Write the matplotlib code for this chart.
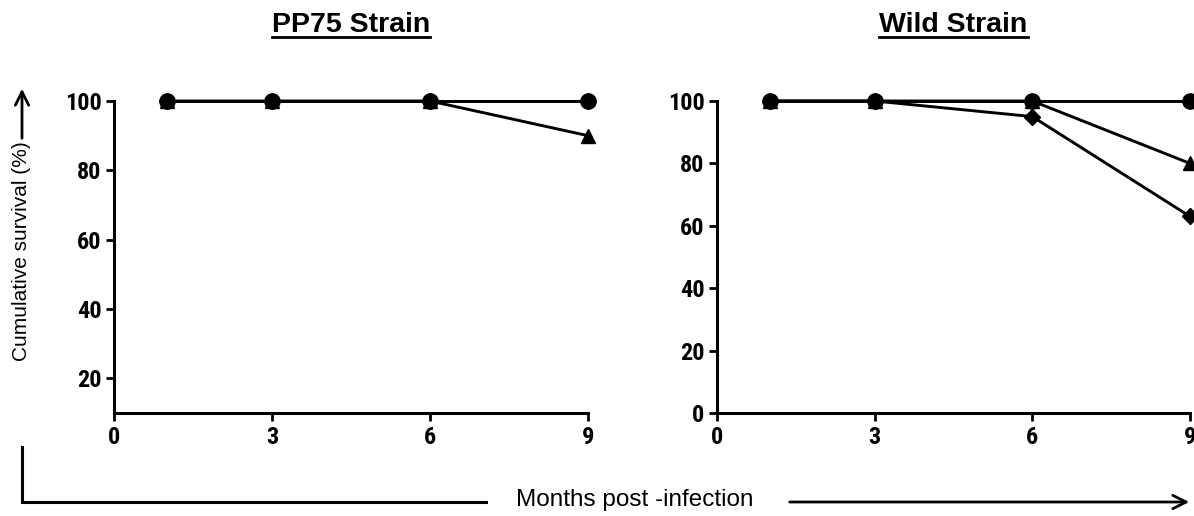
import numpy as np
import matplotlib
matplotlib.use("Agg")
import matplotlib.pyplot as plt
from matplotlib.lines import Line2D
from matplotlib import font_manager

# data
months = [1, 3, 6, 9]
xticks = [0, 3, 6, 9]

pp75_circle = [100, 100, 100, 100]
pp75_triangle = [100, 100, 100, 90]
pp75_diamond = [100, 100, 100, 100]

wild_circle = [100, 100, 100, 100]
wild_triangle = [100, 100, 100, 80]
wild_diamond = [100, 100, 95, 63]

titles = ["PP75 Strain", "Wild Strain"]
ylabel = "Cumulative survival (%)"
xlabel = "Months post -infection"

W, H = 1194, 516
fig = plt.figure(figsize=(W/100, H/100), dpi=100)

# the tick labels look like a condensed bold face; pick a bold narrow file if there is one
def wnum(w):
    if isinstance(w, int):
        return w
    return font_manager.weight_dict.get(w, 400)

cands = [f for f in font_manager.fontManager.ttflist
         if ("Narrow" in f.name or "Condensed" in f.name)
         and wnum(f.weight) >= 700 and f.style == "normal"]
def rank(f):
    for i, key in enumerate(["Liberation Sans Narrow", "Arial Narrow", "Roboto Condensed",
                             "Open Sans Condensed", "DejaVu Sans Condensed"]):
        if f.name.startswith(key):
            return (i, abs(wnum(f.weight) - 700))
    return (9, abs(wnum(f.weight) - 700))
cands.sort(key=rank)
if cands:
    tickfont = font_manager.FontProperties(fname=cands[0].fname, size=17.5)
else:
    tickfont = font_manager.FontProperties(family=["Liberation Sans", "DejaVu Sans"], weight="bold", size=16)

top, bottom = 101, 413

def make_axes(rect, series, ylim, yticks, title):
    ax = fig.add_axes(rect)
    for ys, m, ms in series:
        ax.plot(months, ys, color="black", lw=2.1, marker=m, ms=ms, clip_on=False, zorder=3)
    ax.set_xlim(0, 9)
    ax.set_ylim(*ylim)
    ax.set_xticks(xticks)
    ax.set_yticks(yticks)
    for s in ["top", "right"]:
        ax.spines[s].set_visible(False)
    for s in ["left", "bottom"]:
        ax.spines[s].set_linewidth(2.2)
    ax.tick_params(width=2, length=6, direction="out", pad=3)
    for lab in ax.get_xticklabels() + ax.get_yticklabels():
        lab.set_fontproperties(tickfont)
    t = ax.set_title(title, fontsize=20.5, fontweight="bold",
                     family=["Liberation Sans", "DejaVu Sans"], pad=50)
    return ax, t

ax1, t1 = make_axes([114/W, 1 - bottom/H, 474/W, (bottom - top)/H],
                    [(pp75_diamond, "D", 8), (pp75_triangle, "^", 10), (pp75_circle, "o", 11)],
                    (10, 100), [20, 40, 60, 80, 100], titles[0])
ax2, t2 = make_axes([717/W, 1 - bottom/H, 473/W, (bottom - top)/H],
                    [(wild_diamond, "D", 8), (wild_triangle, "^", 10), (wild_circle, "o", 11)],
                    (0, 100), [0, 20, 40, 60, 80, 100], titles[1])

# overlay in pixel coordinates for arrows / bracket
ov = fig.add_axes([0, 0, 1, 1], zorder=-1)
ov.set_xlim(0, W)
ov.set_ylim(H, 0)
ov.axis("off")

ov.annotate("", xy=(22, 86), xytext=(22, 141),
            arrowprops=dict(arrowstyle="->", lw=2, color="black", mutation_scale=24))
ov.text(22, 251, ylabel, rotation=90, ha="center", va="center",
        family=["Liberation Sans", "DejaVu Sans"], fontsize=15)
ov.plot([22, 22, 486], [447, 502, 502], color="black", lw=2.2, solid_joinstyle="miter")
ov.text(635, 500, xlabel, ha="center", va="center",
        family=["Liberation Sans", "DejaVu Sans"], fontsize=17.5)
ov.annotate("", xy=(1192, 502), xytext=(787, 502),
            arrowprops=dict(arrowstyle="->", lw=2, color="black", mutation_scale=24))

# underline the titles
fig.canvas.draw()
r = fig.canvas.get_renderer()
for t in (t1, t2):
    bb = t.get_window_extent(r)
    y = bb.y0 + 1
    fig.add_artist(Line2D([bb.x0 / W, bb.x1 / W], [y / H, y / H], color="black", lw=2,
                          transform=fig.transFigure))

fig.savefig("out.png", dpi=100)
